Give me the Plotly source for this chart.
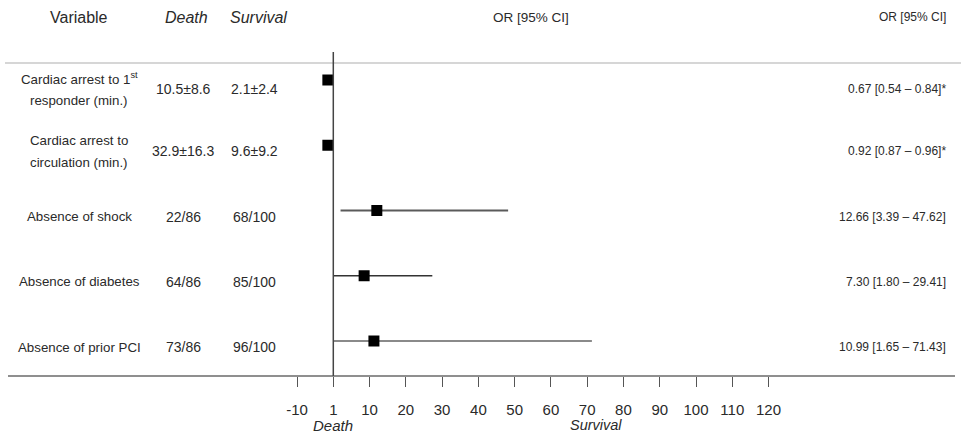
import plotly.graph_objects as go

# ---------------- data ----------------
variables = [
    ["Cardiac arrest to 1<sup>st</sup>", "responder (min.)"],
    ["Cardiac arrest to", "circulation (min.)"],
    ["Absence of shock"],
    ["Absence of diabetes"],
    ["Absence of prior PCI"],
]
death_vals = ["10.5±8.6", "32.9±16.3", "22/86", "64/86", "73/86"]
survival_vals = ["2.1±2.4", "9.6±9.2", "68/100", "85/100", "96/100"]
or_text = [
    "0.67 [0.54 – 0.84]*",
    "0.92 [0.87 – 0.96]*",
    "12.66 [3.39 – 47.62]",
    "7.30 [1.80 – 29.41]",
    "10.99 [1.65 – 71.43]",
]
# positions on the drawn scale
or_pos = [-1.5, -1.5, 12.0, 8.5, 11.2]
ci_lo = [None, None, 2.0, 0.0, 0.0]
ci_hi = [None, None, 48.2, 27.3, 71.3]

tick_vals = [-10, 0, 10, 20, 30, 40, 50, 60, 70, 80, 90, 100, 110, 120]
tick_text = ["-10", "1", "10", "20", "30", "40", "50", "60", "70", "80", "90",
             "100", "110", "120"]

# ---------------- layout helpers ----------------
W, H = 961, 439
PLOT_H = 376
FONT = "Liberation Sans, Arial, sans-serif"
TXT = "#2a2a2a"
ROW_PX0, ROW_STEP = 80, 65.25
y_top = -ROW_PX0 / ROW_STEP
y_bot = (PLOT_H - ROW_PX0) / ROW_STEP
rows = list(range(len(variables)))

fig = go.Figure()

ci_styles = [None, None, ("#5a5a5a", 2.0), ("#333333", 1.3), ("#8a8a8a", 2.2)]
for i in rows:
    if ci_lo[i] is not None:
        col, w = ci_styles[i]
        fig.add_trace(go.Scatter(x=[ci_lo[i], ci_hi[i]], y=[i, i], mode="lines",
                                 line=dict(color=col, width=w),
                                 hoverinfo="skip", showlegend=False))

fig.add_trace(go.Scatter(x=or_pos, y=rows, mode="markers",
                         marker=dict(symbol="square", size=11, color="black"),
                         showlegend=False))


def px_to_paper_y(py):
    return 1 - py / PLOT_H


def px_to_paper_x(px):
    return px / W


ann = []
hdr_y = px_to_paper_y(17)
ann.append(dict(text="Variable", x=px_to_paper_x(79), y=hdr_y, font=dict(size=16)))
ann.append(dict(text="<i>Death</i>", x=px_to_paper_x(186), y=hdr_y, font=dict(size=16)))
ann.append(dict(text="<i>Survival</i>", x=px_to_paper_x(258), y=hdr_y, font=dict(size=16)))
ann.append(dict(text="OR [95% CI]", x=px_to_paper_x(531), y=hdr_y, font=dict(size=13.5)))
ann.append(dict(text="OR [95% CI]", x=px_to_paper_x(948), y=hdr_y, xanchor="right",
                font=dict(size=12)))

for i in rows:
    lines = variables[i]
    n = len(lines)
    off = -9 if n > 1 and i == 0 else -6
    for k, ln in enumerate(lines):
        shift = off + (n - 1) * 11 - k * 22
        ann.append(dict(text=ln, x=px_to_paper_x(79), xref="paper", y=i, yref="y",
                        yshift=shift, font=dict(size=13.3)))
    ann.append(dict(text=death_vals[i], x=px_to_paper_x(183), y=i, yref="y", yshift=off,
                    font=dict(size=14)))
    ann.append(dict(text=survival_vals[i], x=px_to_paper_x(254), y=i, yref="y", yshift=off,
                    font=dict(size=14)))
    ann.append(dict(text=or_text[i], x=px_to_paper_x(948), y=i, yref="y", yshift=off,
                    xanchor="right", font=dict(size=12)))

ann.append(dict(text="<i>Death</i>", x=0, xref="x", y=px_to_paper_y(425),
                font=dict(size=15)))
ann.append(dict(text="<i>Survival</i>", x=72.5, xref="x", y=px_to_paper_y(425),
                font=dict(size=14.5)))

for a in ann:
    a.setdefault("xref", "paper")
    a.setdefault("yref", "paper")
    a.setdefault("xanchor", "center")
    a["yanchor"] = "middle"
    a["showarrow"] = False
    f = a["font"]
    f.setdefault("family", FONT)
    f.setdefault("color", TXT)
    fig.add_annotation(**a)

shapes = [
    dict(type="line", xref="paper", yref="paper", x0=px_to_paper_x(5), x1=1,
         y0=px_to_paper_y(63), y1=px_to_paper_y(63),
         line=dict(color="#c8c8c8", width=1.5)),
    dict(type="line", xref="paper", yref="paper", x0=px_to_paper_x(8), x1=px_to_paper_x(955),
         y0=0, y1=0, line=dict(color="#6a6a6a", width=1.3)),
    dict(type="line", xref="x", yref="paper", x0=0, x1=0,
         y0=0, y1=px_to_paper_y(52), line=dict(color="#444444", width=1.5)),
]
for s in shapes:
    fig.add_shape(**s)

x_lo = (0 - 333.3) / 3.627
x_hi = (W - 333.3) / 3.627

fig.update_layout(
    width=W, height=H,
    margin=dict(l=0, r=0, t=0, b=H - PLOT_H, pad=0),
    paper_bgcolor="white", plot_bgcolor="white",
    showlegend=False,
    xaxis=dict(range=[x_lo, x_hi], showgrid=False, zeroline=False, showline=False,
               tickmode="array", tickvals=tick_vals, ticktext=tick_text,
               ticks="outside", ticklen=10, tickwidth=1.2, tickcolor="#555555",
               ticklabelstandoff=10,
               tickfont=dict(family=FONT, size=15, color=TXT), fixedrange=True),
    yaxis=dict(range=[y_bot, y_top], showgrid=False, zeroline=False, showline=False,
               showticklabels=False, ticks="", fixedrange=True),
)

fig.write_html(
    "out.html",
    config={"displayModeBar": False},
    post_script="document.body.style.margin='0';document.body.style.padding='0';",
)
